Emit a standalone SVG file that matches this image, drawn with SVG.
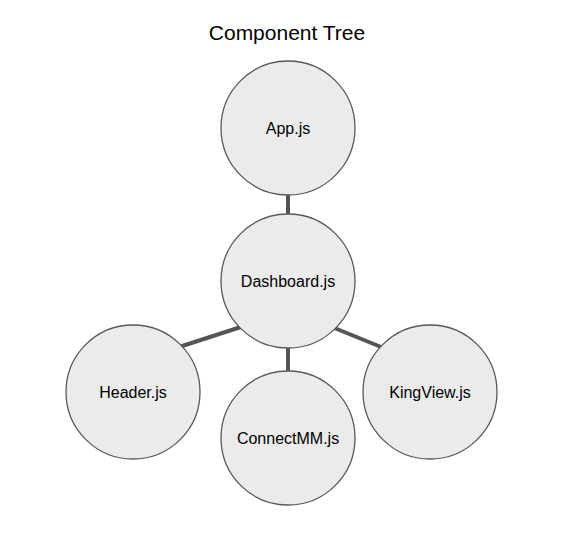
<svg xmlns="http://www.w3.org/2000/svg" width="565" height="542" viewBox="0 0 565 542">
<style>
.node circle{fill:#ebebeb;stroke:#595959;stroke-width:1.3}
.node text{font-family:"Liberation Sans",Arial,sans-serif;font-size:16px;fill:#000;text-anchor:middle}
.edge{stroke:#555;stroke-width:4;fill:none}
.title{font-family:"Liberation Sans",Arial,sans-serif;font-size:21px;fill:#000;text-anchor:middle}
</style>
<rect width="565" height="542" fill="#fff"/>
<text class="title" x="287" y="40">Component Tree</text>
<g id="connectors">
<line class="edge" x1="288" y1="190" x2="288" y2="220"/>
<line class="edge" x1="176" y1="348" x2="244" y2="326"/>
<line class="edge" x1="288" y1="340" x2="288" y2="376"/>
<line class="edge" x1="332" y1="327" x2="386" y2="349"/>
</g>
<g id="app" class="node"><circle cx="288" cy="128" r="67"/><text x="288" y="134">App.js</text></g>
<g id="dashboard" class="node"><circle cx="288" cy="281" r="67"/><text x="288" y="287">Dashboard.js</text></g>
<g id="header" class="node"><circle cx="133" cy="392" r="67"/><text x="133" y="398">Header.js</text></g>
<g id="connectmm" class="node"><circle cx="288" cy="438" r="67"/><text x="288" y="444">ConnectMM.js</text></g>
<g id="kingview" class="node"><circle cx="430" cy="392" r="67"/><text x="430" y="398">KingView.js</text></g>
</svg>
